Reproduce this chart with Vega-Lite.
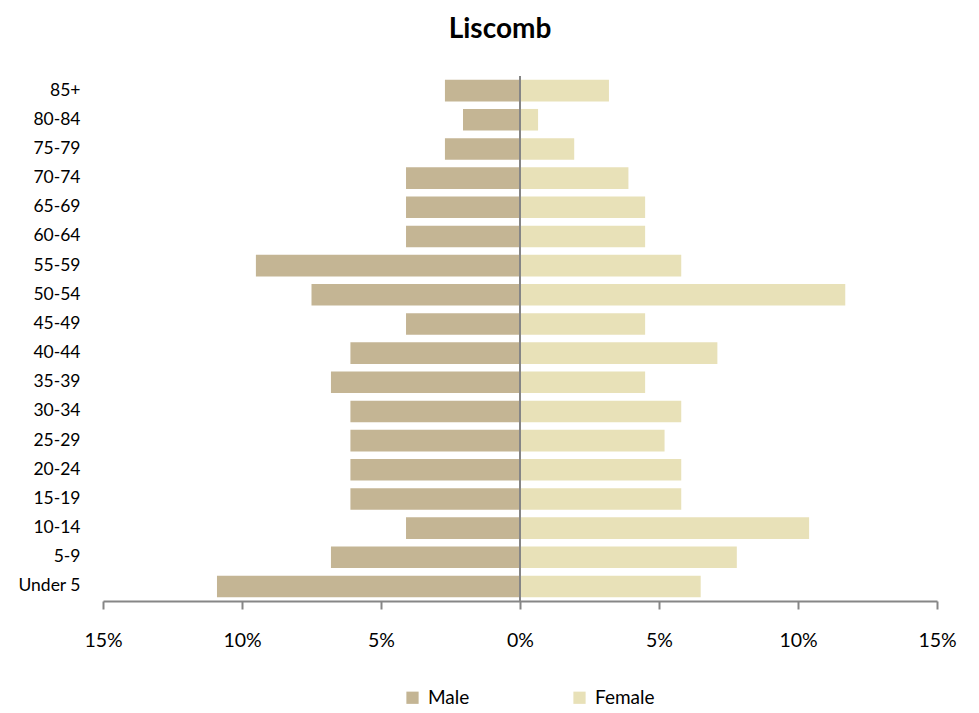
{
  "$schema": "https://vega.github.io/schema/vega-lite/v6.json",
  "width": 834,
  "height": 525,
  "autosize": "none",
  "padding": {"left": 103, "top": 76, "right": 42, "bottom": 112},
  "background": "white",
  "title": {"text": "Liscomb", "font": "Lato", "fontSize": 28, "fontWeight": "bold", "color": "#000000", "anchor": "middle", "dx": -20, "offset": 31},
  "config": {"view": {"stroke": null}, "font": "Lato"},
  "data": {"values": [
    {"age": "85+", "sex": "Male", "value": -2.7},
    {"age": "80-84", "sex": "Male", "value": -2.05},
    {"age": "75-79", "sex": "Male", "value": -2.7},
    {"age": "70-74", "sex": "Male", "value": -4.1},
    {"age": "65-69", "sex": "Male", "value": -4.1},
    {"age": "60-64", "sex": "Male", "value": -4.1},
    {"age": "55-59", "sex": "Male", "value": -9.5},
    {"age": "50-54", "sex": "Male", "value": -7.5},
    {"age": "45-49", "sex": "Male", "value": -4.1},
    {"age": "40-44", "sex": "Male", "value": -6.1},
    {"age": "35-39", "sex": "Male", "value": -6.8},
    {"age": "30-34", "sex": "Male", "value": -6.1},
    {"age": "25-29", "sex": "Male", "value": -6.1},
    {"age": "20-24", "sex": "Male", "value": -6.1},
    {"age": "15-19", "sex": "Male", "value": -6.1},
    {"age": "10-14", "sex": "Male", "value": -4.1},
    {"age": "5-9", "sex": "Male", "value": -6.8},
    {"age": "Under 5", "sex": "Male", "value": -10.9},
    {"age": "85+", "sex": "Female", "value": 3.2},
    {"age": "80-84", "sex": "Female", "value": 0.65},
    {"age": "75-79", "sex": "Female", "value": 1.95},
    {"age": "70-74", "sex": "Female", "value": 3.9},
    {"age": "65-69", "sex": "Female", "value": 4.5},
    {"age": "60-64", "sex": "Female", "value": 4.5},
    {"age": "55-59", "sex": "Female", "value": 5.8},
    {"age": "50-54", "sex": "Female", "value": 11.7},
    {"age": "45-49", "sex": "Female", "value": 4.5},
    {"age": "40-44", "sex": "Female", "value": 7.1},
    {"age": "35-39", "sex": "Female", "value": 4.5},
    {"age": "30-34", "sex": "Female", "value": 5.8},
    {"age": "25-29", "sex": "Female", "value": 5.2},
    {"age": "20-24", "sex": "Female", "value": 5.8},
    {"age": "15-19", "sex": "Female", "value": 5.8},
    {"age": "10-14", "sex": "Female", "value": 10.4},
    {"age": "5-9", "sex": "Female", "value": 7.8},
    {"age": "Under 5", "sex": "Female", "value": 6.5}
  ]},
  "layer": [
    {
      "mark": {"type": "bar"},
      "encoding": {
        "y": {
          "field": "age", "type": "nominal",
          "sort": ["85+","80-84","75-79","70-74","65-69","60-64","55-59","50-54","45-49","40-44","35-39","30-34","25-29","20-24","15-19","10-14","5-9","Under 5"],
          "scale": {"paddingInner": 0.26, "paddingOuter": 0.13},
          "axis": {"title": null, "domain": false, "ticks": false, "labelPadding": 23, "labelFont": "Lato", "labelFontSize": 17.5, "labelColor": "#000000"}
        },
        "x": {
          "field": "value", "type": "quantitative",
          "scale": {"domain": [-15, 15], "nice": false},
          "axis": {"title": null, "grid": false, "values": [-15, -10, -5, 0, 5, 10, 15], "labelExpr": "abs(datum.value) + '%'", "labelFlush": false, "labelBound": false, "labelOverlap": false, "domainColor": "#868686", "domainWidth": 2, "tickColor": "#868686", "tickWidth": 2, "tickSize": 8, "labelPadding": 22, "labelFont": "Lato", "labelFontSize": 19.5, "labelColor": "#000000"}
        },
        "color": {
          "field": "sex", "type": "nominal",
          "scale": {"domain": ["Male", "Female"], "range": ["#C4B594", "#E8E1B8"]},
          "legend": {"title": null, "orient": "none", "direction": "horizontal", "legendX": 300, "legendY": 612, "symbolType": "square", "symbolSize": 150, "symbolStrokeWidth": 0, "labelFont": "Lato", "labelFontSize": 19, "labelColor": "#000000", "columnPadding": 100, "labelOffset": 6}
        }
      }
    },
    {
      "data": {"values": [{"zero": 0}]},
      "mark": {"type": "rule", "color": "#868686", "strokeWidth": 2},
      "encoding": {"x": {"field": "zero", "type": "quantitative"}}
    }
  ]
}
